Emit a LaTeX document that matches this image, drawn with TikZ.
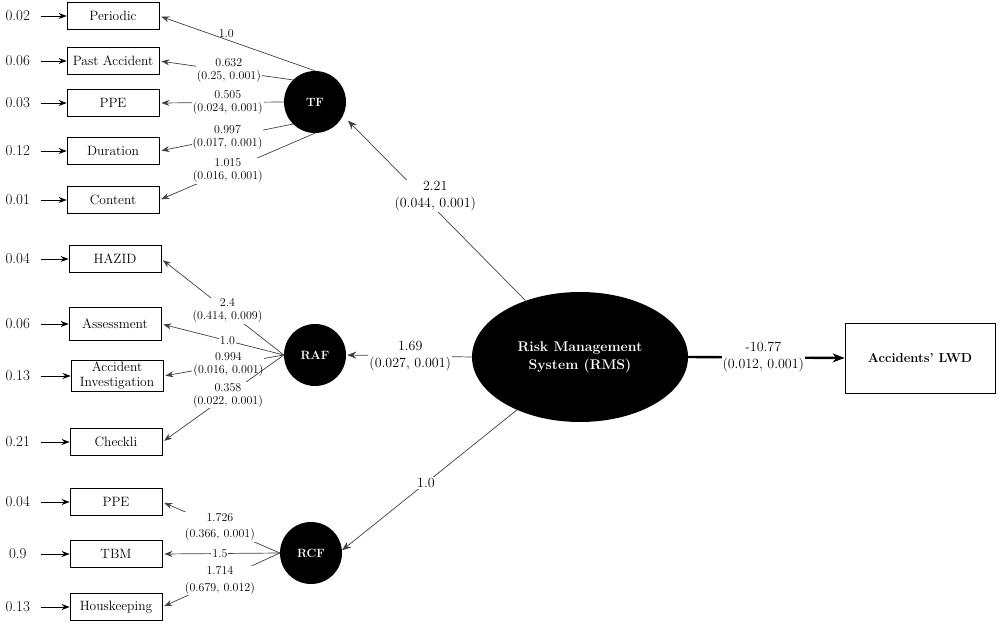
\documentclass[tikz,border=0pt]{standalone}
\usepackage{amsmath,amssymb}
\usepackage{tikz}
\usetikzlibrary{arrows.meta,shapes.geometric}

\begin{document}
\begin{tikzpicture}[x=1pt,y=-1pt,
  item/.style={draw,line width=0.8pt,minimum width=92pt,minimum height=27pt,inner sep=2pt,align=center,font=\fontsize{13.5}{15}\selectfont},
  latent/.style={circle,fill=black,minimum size=62pt,inner sep=0pt,text=white,font=\fontsize{12}{14}\selectfont\bfseries},
  num/.style={anchor=east,minimum width=46pt,inner sep=0pt,font=\fontsize{15}{17}\selectfont},
  err/.style={-{Stealth[length=8pt,width=6pt]},line width=0.9pt},
  load/.style={-{Stealth[length=8pt,width=6pt]},line width=0.7pt,black!75,shorten >=2pt},
  struct/.style={-{Stealth[length=9pt,width=7pt]},line width=0.7pt,black!75},
  effect/.style={-{Stealth[length=12pt,width=9pt]},line width=2.4pt},
  lbl/.style={fill=white,inner sep=1pt,align=center,text=black,font=\fontsize{12}{13}\selectfont},
  biglbl/.style={lbl,font=\fontsize{14}{17}\selectfont}]

\useasboundingbox (0,0) rectangle (1000,628);

% indicators
\node[item] (periodic) at (113,16) {Periodic};
\node[item] (pastacc) at (113,61) {Past Accident};
\node[item] (ppeA) at (113,103) {PPE};
\node[item] (duration) at (113,151) {Duration};
\node[item] (content) at (113,200) {Content};

\node[item] (hazid) at (115,259) {HAZID};
\node[item,minimum height=33pt] (assess) at (115,324) {Assessment};
\node[item] (accinv) at (117,376) {Accident\\Investigation};
\node[item] (checkli) at (116,442) {Checkli};

\node[item] (ppeB) at (116,502) {PPE};
\node[item] (tbm) at (116,554) {TBM};
\node[item] (housk) at (116,607) {Houskeeping};

% errors
\node[num] (e1) at (41,16) {0.02};
\node[num] (e2) at (41,61) {0.06};
\node[num] (e3) at (41,103) {0.03};
\node[num] (e4) at (41,151) {0.12};
\node[num] (e5) at (41,200) {0.01};
\node[num] (e6) at (41,259) {0.04};
\node[num] (e7) at (41,324) {0.06};
\node[num] (e8) at (41,376) {0.13};
\node[num] (e9) at (41,442) {0.21};
\node[num] (e10) at (41,502) {0.04};
\node[num] (e11) at (41,554) {0.9};
\node[num] (e12) at (41,607) {0.13};

\foreach \i/\n in {1/periodic,2/pastacc,3/ppeA,4/duration,5/content,6/hazid,7/assess,8/accinv,9/checkli,10/ppeB,11/tbm,12/housk}
  \draw[err] (e\i) -- (\n);

% latent variables
\node[latent] (tf) at (315,102) {TF};
\node[latent] (raf) at (315,355) {RAF};
\node[latent] (rcf) at (311,553) {RCF};
\node[ellipse,fill=black,minimum width=216pt,minimum height=130pt,inner sep=0pt,align=center,text=white,font=\fontsize{14}{18}\selectfont\bfseries] (rms) at (580,357) {Risk Management\\System (RMS)};
\node[draw,line width=0.8pt,minimum width=150pt,minimum height=70pt,font=\fontsize{13}{15}\selectfont\bfseries] (lwd) at (920,358) {Accidents’ LWD};

% loadings
\draw[load] (tf.north) -- node[lbl,fill=none,pos=0.57,above=0pt]{1.0} (periodic.east);
\draw[load] (tf.135) -- node[lbl,pos=0.48]{0.632\\(0.25, 0.001)} (pastacc.east);
\draw[load] (tf.west) -- node[lbl,pos=0.45]{0.505\\(0.024, 0.001)} (ppeA.east);
\draw[load] (tf.225) -- node[lbl,pos=0.49]{0.997\\(0.017, 0.001)} (duration.east);
\draw[load] (tf.south) -- node[lbl,pos=0.56]{1.015\\(0.016, 0.001)} (content.east);

\draw[load] (raf.west) -- node[lbl,pos=0.46]{2.4\\(0.414, 0.009)} (hazid.east);
\draw[load] (raf.west) -- node[lbl,pos=0.46]{1.0} (assess.east);
\draw[load] (raf.west) -- node[lbl,pos=0.46]{0.994\\(0.016, 0.001)} (accinv.east);
\draw[load] (raf.west) -- node[lbl,pos=0.46]{0.358\\(0.022, 0.001)} (checkli.east);

\draw[load] (rcf.west) -- node[lbl,pos=0.51,font=\fontsize{12}{16.5}\selectfont]{1.726\\(0.366, 0.001)} (ppeB.east);
\draw[load] (rcf.west) -- node[lbl,pos=0.51]{1.5} (tbm.east);
\draw[load] (rcf.west) -- node[lbl,pos=0.51,font=\fontsize{12}{16.5}\selectfont]{1.714\\(0.679, 0.012)} (housk.east);

% structural paths
\draw[struct,shorten >=7pt] (rms.134) -- node[biglbl,pos=0.566,xshift=13pt]{2.21\\(0.044, 0.001)} (tf.-26);
\draw[struct,shorten >=1pt] (rms.west) -- node[biglbl,pos=0.49]{1.69\\(0.027, 0.001)} (raf.east);
\draw[struct] (rms.220) -- node[biglbl,pos=0.52]{1.0} (rcf.5);
\draw[effect] (rms.east) -- node[biglbl,pos=0.48]{-10.77\\(0.012, 0.001)} (lwd.west);
\end{tikzpicture}
\end{document}
